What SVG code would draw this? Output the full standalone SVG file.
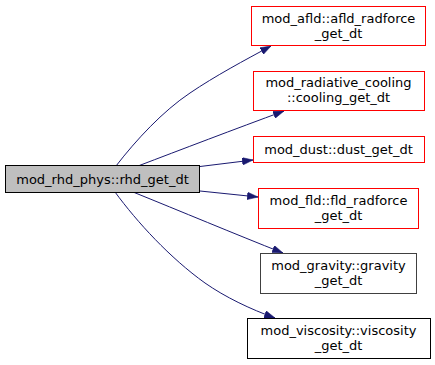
<svg xmlns="http://www.w3.org/2000/svg" width="435" height="365" viewBox="0 0 435 365">
<style>
  .node rect { stroke-width: 1; }
  .root rect { fill: #bfbfbf; stroke: #000000; }
  .red rect { fill: #ffffff; stroke: #ff0000; }
  .gray rect { fill: #ffffff; stroke: #404040; }
  .black rect { fill: #ffffff; stroke: #000000; }
  .node text { font-family: "DejaVu Sans", sans-serif; font-size: 13px; fill: #000000; text-anchor: middle; }
  .edges path { fill: none; stroke: #191970; stroke-width: 1; }
</style>
<defs>
  <marker id="arrow" viewBox="0 0 10 7" refX="10" refY="3.5" markerWidth="11" markerHeight="7.5" markerUnits="userSpaceOnUse" orient="auto">
    <polygon points="0,0 10,3.5 0,7" fill="#191970" stroke="#191970" stroke-width="0.5"/>
  </marker>
</defs>
<rect width="435" height="365" fill="#ffffff"/>
<g class="edges" id="edges">
  <path marker-end="url(#arrow)" d="M116,166 C136,140 163,111 190,93 C215,76 245,60 271,46"/>
  <path marker-end="url(#arrow)" d="M138,166 C180,150 235,129 284,111"/>
  <path marker-end="url(#arrow)" d="M200,166.5 L253,160"/>
  <path marker-end="url(#arrow)" d="M200,191 L258,197"/>
  <path marker-end="url(#arrow)" d="M133,192 C180,211 235,234 283,253"/>
  <path marker-end="url(#arrow)" d="M115,192 C137,222 170,258 205,283 C225,297 250,309 275,318"/>
</g>
<g id="node_root" class="node root">
  <rect x="5.5" y="165.5" width="194" height="27"/>
  <text x="102.5" y="183.5">mod_rhd_phys::rhd_get_dt</text>
</g>
<g id="node_afld" class="node red">
  <rect x="251.5" y="6.5" width="174" height="39"/>
  <text x="338.5" y="22.5">mod_afld::afld_radforce</text>
  <text x="338.5" y="37.5">_get_dt</text>
</g>
<g id="node_cooling" class="node red">
  <rect x="253.5" y="71.5" width="171" height="39"/>
  <text x="338.5" y="87">mod_radiative_cooling</text>
  <text x="338.5" y="102">::cooling_get_dt</text>
</g>
<g id="node_dust" class="node red">
  <rect x="253.5" y="136.5" width="171" height="26"/>
  <text x="338.5" y="153.5">mod_dust::dust_get_dt</text>
</g>
<g id="node_fld" class="node red">
  <rect x="258.5" y="188.5" width="160" height="40"/>
  <text x="338.5" y="205">mod_fld::fld_radforce</text>
  <text x="338.5" y="220">_get_dt</text>
</g>
<g id="node_gravity" class="node gray">
  <rect x="260.5" y="253.5" width="156" height="40"/>
  <text x="338.5" y="270">mod_gravity::gravity</text>
  <text x="338.5" y="285">_get_dt</text>
</g>
<g id="node_viscosity" class="node black">
  <rect x="247.5" y="318.5" width="183" height="40"/>
  <text x="338.5" y="335">mod_viscosity::viscosity</text>
  <text x="338.5" y="350">_get_dt</text>
</g>
</svg>
